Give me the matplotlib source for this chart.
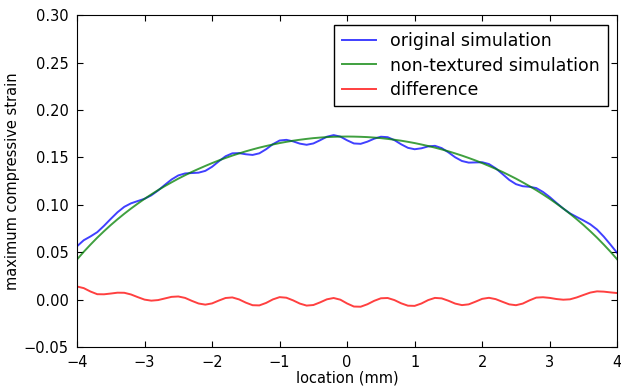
import numpy as np
import matplotlib
matplotlib.use("Agg")
import matplotlib.pyplot as plt

# ---------- data ----------
location = [
    -4.0, -3.9, -3.8, -3.7, -3.6, -3.5, -3.4, -3.3, -3.2, -3.1,
    -3.0, -2.9, -2.8, -2.7, -2.6, -2.5, -2.4, -2.3, -2.2, -2.1,
    -2.0, -1.9, -1.8, -1.7, -1.6, -1.5, -1.4, -1.3, -1.2, -1.1,
    -1.0, -0.9, -0.8, -0.7, -0.6, -0.5, -0.4, -0.3, -0.2, -0.1,
    0.0, 0.1, 0.2, 0.3, 0.4, 0.5, 0.6, 0.7, 0.8, 0.9,
    1.0, 1.1, 1.2, 1.3, 1.4, 1.5, 1.6, 1.7, 1.8, 1.9,
    2.0, 2.1, 2.2, 2.3, 2.4, 2.5, 2.6, 2.7, 2.8, 2.9,
    3.0, 3.1, 3.2, 3.3, 3.4, 3.5, 3.6, 3.7, 3.8, 3.9,
    4.0,
]

original = [
    0.0563, 0.0627, 0.0667, 0.0712, 0.0779, 0.0852, 0.0922, 0.0979, 0.1016, 0.1040,
    0.1064, 0.1100, 0.1151, 0.1210, 0.1267, 0.1310, 0.1331, 0.1335, 0.1339, 0.1358,
    0.1401, 0.1459, 0.1512, 0.1543, 0.1545, 0.1533, 0.1526, 0.1543, 0.1586, 0.1639,
    0.1678, 0.1685, 0.1669, 0.1645, 0.1633, 0.1647, 0.1681, 0.1718, 0.1735, 0.1719,
    0.1680, 0.1647, 0.1643, 0.1666, 0.1697, 0.1718, 0.1713, 0.1682, 0.1638, 0.1601,
    0.1586, 0.1596, 0.1616, 0.1622, 0.1598, 0.1553, 0.1501, 0.1462, 0.1445, 0.1447,
    0.1449, 0.1430, 0.1385, 0.1325, 0.1263, 0.1218, 0.1196, 0.1190, 0.1177, 0.1136,
    0.1082, 0.1020, 0.0961, 0.0910, 0.0872, 0.0835, 0.0795, 0.0740, 0.0665, 0.0580,
    0.0492,
]

non_textured = [
    0.0424, 0.0505, 0.0581, 0.0654, 0.0722, 0.0787, 0.0848, 0.0906, 0.0961, 0.1013,
    0.1063, 0.1110, 0.1155, 0.1197, 0.1237, 0.1276, 0.1312, 0.1347, 0.1379, 0.1410,
    0.1440, 0.1468, 0.1494, 0.1519, 0.1542, 0.1564, 0.1584, 0.1603, 0.1620, 0.1636,
    0.1651, 0.1664, 0.1676, 0.1686, 0.1695, 0.1703, 0.1709, 0.1714, 0.1717, 0.1719,
    0.1720, 0.1719, 0.1717, 0.1714, 0.1709, 0.1703, 0.1695, 0.1686, 0.1676, 0.1664,
    0.1651, 0.1636, 0.1620, 0.1603, 0.1584, 0.1564, 0.1542, 0.1519, 0.1494, 0.1468,
    0.1440, 0.1410, 0.1379, 0.1347, 0.1312, 0.1276, 0.1237, 0.1197, 0.1155, 0.1110,
    0.1063, 0.1013, 0.0961, 0.0906, 0.0848, 0.0787, 0.0722, 0.0654, 0.0581, 0.0505,
    0.0424,
]

difference = [
    0.0139, 0.0122, 0.0086, 0.0058, 0.0057, 0.0065, 0.0074, 0.0073, 0.0055, 0.0027,
    0.0001, -0.0010, -0.0004, 0.0013, 0.0030, 0.0034, 0.0019, -0.0012, -0.0040, -0.0052,
    -0.0039, -0.0009, 0.0018, 0.0024, 0.0003, -0.0031, -0.0058, -0.0060, -0.0034, 0.0003,
    0.0027, 0.0021, -0.0007, -0.0041, -0.0062, -0.0056, -0.0028, 0.0004, 0.0018, 0.0000,
    -0.0040, -0.0072, -0.0074, -0.0048, -0.0012, 0.0015, 0.0018, -0.0004, -0.0038, -0.0063,
    -0.0065, -0.0040, -0.0004, 0.0019, 0.0014, -0.0011, -0.0041, -0.0057, -0.0049, -0.0021,
    0.0009, 0.0020, 0.0006, -0.0022, -0.0049, -0.0058, -0.0041, -0.0007, 0.0022, 0.0026,
    0.0019, 0.0007, 0.0000, 0.0004, 0.0024, 0.0050, 0.0075, 0.0088, 0.0085, 0.0077,
    0.0070,
]

# ---------- plot ----------
fig = plt.figure(figsize=(6.21, 3.87), dpi=100)
ax = fig.add_axes([0.124, 0.103, 0.870, 0.858])

ax.plot(location, original, color="blue", lw=1.4, alpha=0.75, label="original simulation")
ax.plot(location, non_textured, color="green", lw=1.4, alpha=0.75, label="non-textured simulation")
ax.plot(location, difference, color="red", lw=1.4, alpha=0.75, label="difference")

ax.set_xlim(-4, 4)
ax.set_ylim(-0.05, 0.30)
ax.set_xticks(np.arange(-4, 5, 1))
ax.set_yticks(np.arange(-0.05, 0.301, 0.05))
ax.set_yticklabels([f"{v:.2f}".replace("-", "\u2212") for v in np.arange(-0.05, 0.301, 0.05)])
ax.tick_params(direction="in", top=True, right=True, length=4, labelsize=10.5, pad=6)

ax.set_xlabel("location (mm)", fontsize=10.5, labelpad=0)
ax.set_ylabel("maximum compressive strain", fontsize=10.5, labelpad=3)

leg = ax.legend(loc="upper right", fontsize=12.5, fancybox=False, framealpha=1,
                borderaxespad=0.55, handlelength=2.0, labelspacing=0.35, borderpad=0.45)
leg.get_frame().set_edgecolor("black")

plt.savefig("out.png", dpi=100)
plt.close()
